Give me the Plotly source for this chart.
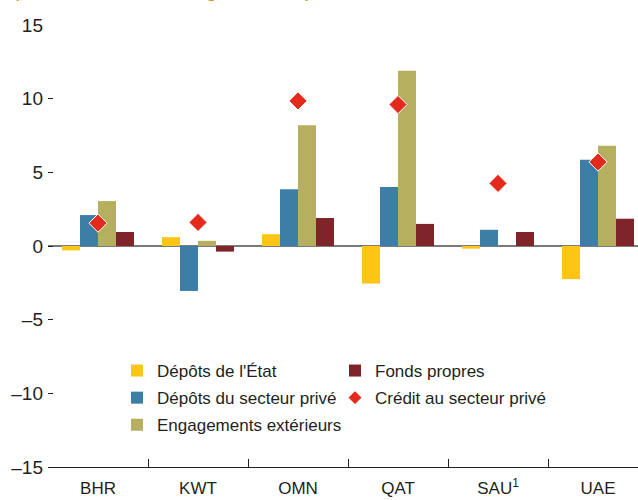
import plotly.graph_objects as go

categories = ["BHR", "KWT", "OMN", "QAT", "SAU<sup>1</sup>", "UAE"]
depots_etat = [-0.3, 0.6, 0.8, -2.55, -0.18, -2.25]
depots_prive = [2.1, -3.05, 3.85, 4.0, 1.1, 5.85]
engagements_ext = [3.05, 0.35, 8.2, 11.9, 0.0, 6.8]
fonds_propres = [0.95, -0.38, 1.9, 1.5, 0.95, 1.85]
credit_prive = [1.55, 1.6, 9.85, 9.6, 4.25, 5.7]

y_tickvals = [-15, -10, -5, 0, 5, 10, 15]
y_ticktext = ["–15", "–10", "–5", "0", "5", "10", "15"]

subtitle = "(Variation, écarts en glissement)"

FONT = "Liberation Sans, Arial, sans-serif"
TXT = "#231F20"

fig = go.Figure()
fig.add_trace(go.Bar(x=categories, y=depots_etat, name="Dépôts de l'État",
                     marker=dict(color="#FEC514", line=dict(width=0)),
                     legend="legend", legendrank=1, legendgroup="g1"))
fig.add_trace(go.Bar(x=categories, y=depots_prive, name="Dépôts du secteur privé",
                     marker=dict(color="#3C7EA5", line=dict(width=0)),
                     legend="legend", legendrank=2, legendgroup="g2"))
fig.add_trace(go.Bar(x=categories, y=engagements_ext, name="Engagements extérieurs",
                     marker=dict(color="#B6AF5F", line=dict(width=0)),
                     legend="legend", legendrank=3, legendgroup="g3"))
fig.add_trace(go.Bar(x=categories, y=fonds_propres, name="Fonds propres",
                     marker=dict(color="#7F252A", line=dict(width=0)),
                     legend="legend2", legendrank=1, legendgroup="g4"))
fig.add_trace(go.Scatter(x=categories, y=credit_prive, name="Crédit au secteur privé",
                         mode="markers",
                         marker=dict(symbol="diamond", size=14, color="#E42A1D",
                                     line=dict(color="white", width=1)),
                         legend="legend2", legendrank=2, legendgroup="g5"))

PL, PT, PB, PW, PH = 48, 25, 33, 590, 442

legend_common = dict(
    font=dict(family=FONT, size=17, color=TXT),
    bgcolor="rgba(0,0,0,0)", borderwidth=0,
    xanchor="left", yanchor="top", tracegroupgap=2,
    itemsizing="constant", traceorder="grouped",
)

fig.update_layout(
    width=638, height=500,
    margin=dict(l=PL, r=0, t=PT, b=PB),
    paper_bgcolor="white", plot_bgcolor="white",
    font=dict(family=FONT, size=17, color=TXT),
    barmode="group", bargap=0.28, bargroupgap=0,
    showlegend=True,
    legend=dict(x=69 / PW, y=114 / PH, **legend_common),
    legend2=dict(x=287 / PW, y=114 / PH, **legend_common),
    xaxis=dict(
        type="category", range=[-0.5, 5.4], automargin=False,
        tickson="boundaries", ticks="inside", ticklen=8, tickcolor=TXT,
        showline=True, linecolor=TXT, linewidth=1,
        showgrid=False, zeroline=False,
        tickfont=dict(family=FONT, size=17, color=TXT),
        ticklabelstandoff=6,
    ),
    yaxis=dict(
        range=[-15, 15], tickvals=y_tickvals, ticktext=y_ticktext, automargin=False,
        ticks="inside", ticklen=5, tickcolor=TXT,
        showline=False, showgrid=False,
        zeroline=True, zerolinecolor="#7A7A7A", zerolinewidth=2,
        layer="above traces",
        tickfont=dict(family=FONT, size=19, color=TXT),
        ticklabelstandoff=4,
    ),
    annotations=[dict(
        text=subtitle, xref="paper", yref="paper", x=-0.061, y=1,
        xanchor="left", yanchor="bottom", yshift=22, showarrow=False,
        font=dict(family=FONT, size=21, color="#D4902A", style="italic"),
    )],
)

fig.write_html("out.html", config={"displayModeBar": False},
               post_script="document.body.style.margin='0';")
